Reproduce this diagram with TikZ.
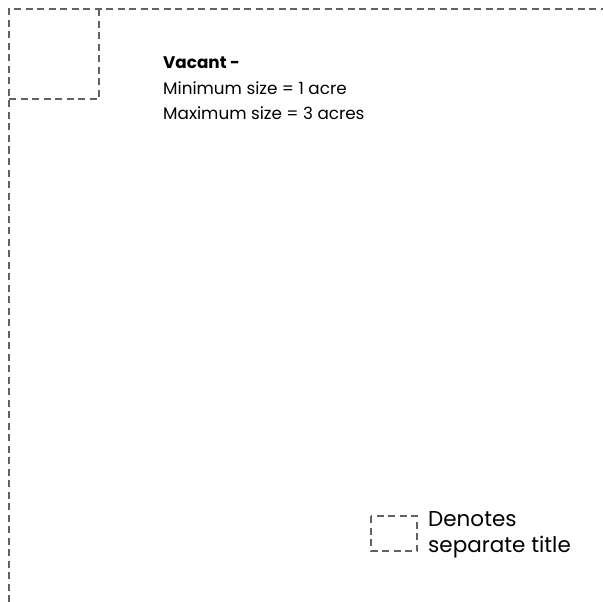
\documentclass[tikz,border=0pt]{standalone}
\usepackage{fontspec}
\setmainfont{Poppins}
\begin{document}
\begin{tikzpicture}[x=1pt,y=-1pt,
  lot/.style={draw=black!62,line width=1.7pt,dash pattern=on 7pt off 4.5pt},
  txt/.style={anchor=base west,inner sep=0pt,font=\fontsize{16.8}{20}\selectfont},
  key/.style={anchor=base west,inner sep=0pt,font=\fontsize{21.5}{25}\selectfont}]
\useasboundingbox (0,0) rectangle (603,602);
% outer boundary of the lot
\draw[lot] (9,602) -- (9,9) -- (603,9);
% separate title in the corner
\draw[lot] (9,99) -- (99,99) -- (99,9);
% description
\node[txt,font=\fontsize{16.8}{20}\selectfont\bfseries] (vacant) at (163,69) {Vacant -};
\node[txt] (minsize) at (163,95) {Minimum size = 1 acre};
\node[txt] (maxsize) at (163,120) {Maximum size = 3 acres};
% legend
\draw[lot] (371,516) rectangle (417,551);
\node[key] (denotes) at (428,526) {Denotes};
\node[key] (septitle) at (428,552) {separate title};
\end{tikzpicture}
\end{document}
